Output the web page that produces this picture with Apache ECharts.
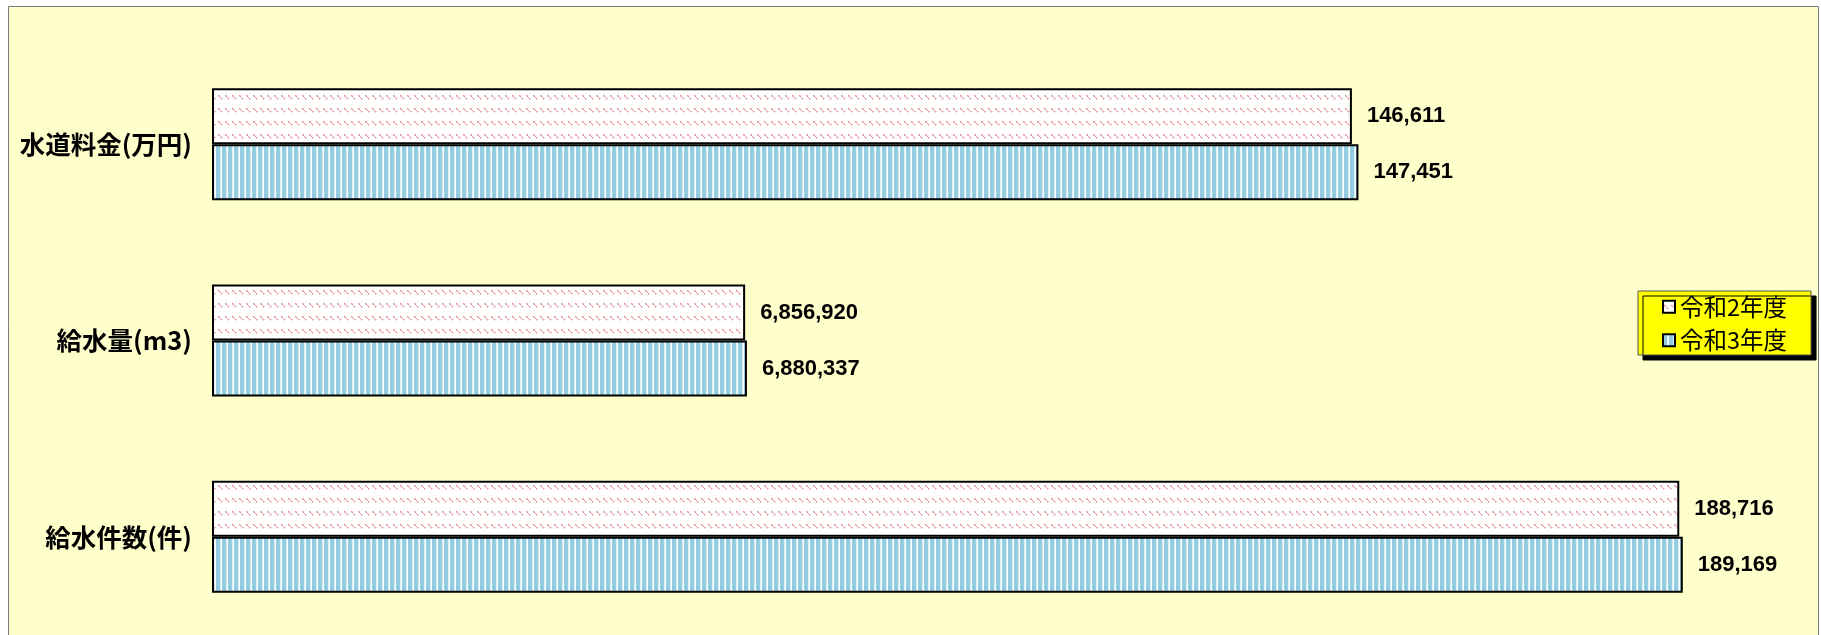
<!DOCTYPE html>
<html>
<head>
<meta charset="utf-8">
<script src="https://cdn.jsdelivr.net/npm/echarts@6/dist/echarts.min.js"></script>
<style>
  html, body { margin: 0; padding: 0; background: #fff; }
  #main-chart { width: 1821px; height: 635px; }
</style>
</head>
<body>
<div id="main-chart"></div>
<script>
// 項目と値
var categories = ['水道料金(万円)', '給水量(m3)', '給水件数(件)'];
var seriesNames = ['令和2年度', '令和3年度'];
var valuesR2 = [146611, 6856920, 188716];
var valuesR3 = [147451, 6880337, 189169];
// 給水量は100m3単位で棒を描く
var barUnit = [1, 100, 1];

function makePattern(w, h, draw) {
    var c = document.createElement('canvas');
    c.width = w; c.height = h;
    var ctx = c.getContext('2d');
    draw(ctx);
    return { image: c, repeat: 'repeat' };
}

// ピンクの斜線
var pinkPattern = makePattern(7, 13, function (ctx) {
    ctx.fillStyle = '#ffffff';
    ctx.fillRect(0, 0, 7, 13);
    ctx.fillStyle = '#f2c4c4';
    ctx.fillRect(2, 4, 1, 1);
    ctx.fillRect(1, 5, 1, 1);
    ctx.fillRect(5, 7, 1, 1);
    ctx.fillRect(4, 8, 1, 1);
    ctx.fillStyle = '#e28f8f';
    ctx.fillRect(1, 4, 1, 1);
    ctx.fillRect(2, 5, 1, 1);
    ctx.fillRect(3, 6, 1, 1);
    ctx.fillRect(4, 7, 1, 1);
});
// 青の縦縞
var bluePattern = makePattern(6, 4, function (ctx) {
    ctx.fillStyle = '#94cde0';
    ctx.fillRect(0, 0, 4, 4);
    ctx.fillStyle = '#d6eef6';
    ctx.fillRect(4, 0, 1, 4);
    ctx.fillStyle = '#ffffff';
    ctx.fillRect(5, 0, 1, 4);
});

function toBars(vals) {
    return vals.map(function (v, i) { return { value: v / barUnit[i], raw: v }; });
}

var labelOpt = {
    show: true,
    position: 'right',
    distance: 15,
    color: '#000',
    fontFamily: 'Liberation Sans',
    fontWeight: 'bold',
    fontSize: 22,
    formatter: function (p) { return p.data.raw.toLocaleString('en-US'); }
};

var dom = document.getElementById('main-chart');
var myChart = echarts.init(dom);
var option = {
    backgroundColor: '#ffffff',
    animation: false,
    graphic: [{
        type: 'rect',
        z: -10,
        silent: true,
        shape: { x: 8.5, y: 6.5, width: 1810, height: 640 },
        style: { fill: '#ffffcc', stroke: '#7a7a7a', lineWidth: 1 }
    }],
    legend: {
        orient: 'vertical',
        left: 1638,
        top: 291,
        padding: [4, 24, 3, 24],
        itemGap: 10,
        itemWidth: 12,
        itemHeight: 12,
        icon: 'rect',
        backgroundColor: '#ffff00',
        borderColor: '#555555',
        borderWidth: 1,
        shadowColor: '#000000',
        shadowOffsetX: 5,
        shadowOffsetY: 5,
        shadowBlur: 0,
        textStyle: {
            fontFamily: 'Noto Sans CJK JP',
            fontSize: 23.5,
            color: '#000'
        },
        data: seriesNames
    },
    grid: {
        left: 212,
        top: 46,
        width: 1555,
        height: 591
    },
    xAxis: {
        type: 'value',
        min: 0,
        max: 200000,
        show: false
    },
    yAxis: {
        type: 'category',
        inverse: true,
        data: categories,
        axisLine: { show: false },
        axisTick: { show: false },
        axisLabel: {
            margin: 20,
            color: '#000',
            fontFamily: 'Noto Sans CJK JP',
            fontWeight: 'bold',
            fontSize: 25.5
        }
    },
    series: [
        {
            name: seriesNames[0],
            type: 'bar',
            barWidth: 56,
            barGap: '0%',
            data: toBars(valuesR2),
            itemStyle: { color: pinkPattern, borderColor: '#000', borderWidth: 2 },
            label: labelOpt
        },
        {
            name: seriesNames[1],
            type: 'bar',
            barWidth: 56,
            barGap: '0%',
            data: toBars(valuesR3),
            itemStyle: { color: bluePattern, borderColor: '#000', borderWidth: 2 },
            label: labelOpt
        }
    ]
};
myChart.setOption(option, true);
</script>
</body>
</html>
